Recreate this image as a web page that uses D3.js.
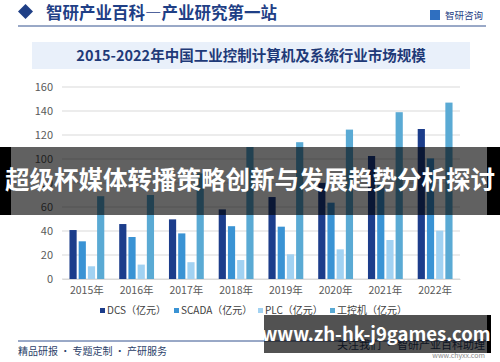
<!DOCTYPE html>
<html lang="zh">
<head>
  <meta charset="UTF-8">
  <title>工业控制计算机市场规模</title>
  <script src="https://cdn.jsdelivr.net/npm/d3@7/dist/d3.min.js"></script>
  <style>
    body { margin: 0; background: #fff; }
    svg { display: block; }
    text { font-family: "Noto Sans CJK SC", "Liberation Sans", sans-serif; }
  </style>
</head>
<body>
<div id="chart"></div>
<script>
  // 数据
  var years = ['2015年', '2016年', '2017年', '2018年', '2019年', '2020年', '2021年', '2022年']
  var seriesNames = ['DCS（亿元）', 'SCADA（亿元）', 'PLC（亿元）', '工控机（亿元）']
  var dcs = [40.8, 45.8, 49.7, 58.0, 68.3, 80.0, 102.5, 125.0]
  var scada = [31.4, 35.0, 38.0, 44.0, 43.6, 63.6, 80.0, 100.5]
  var plc = [10.6, 12.0, 14.0, 15.8, 20.6, 24.7, 32.5, 40.3]
  var ipc = [69.0, 70.0, 88.0, 110.0, 114.0, 124.5, 139.0, 147.0]
  var yTicks = [0, 20, 40, 60, 80, 100, 120, 140, 160]
  var colors = ['#1c3d8b', '#3a93d4', '#a2d2f2', '#5aaad4']

  var allSeries = [dcs, scada, plc, ipc]
  var width = 500
  var height = 362
  var navy = '#1f3f86'

  var svg = d3.select('#chart').append('svg')
    .attr('width', width)
    .attr('height', height)

  // 页眉
  svg.append('path')
    .attr('d', 'M18,11.5 L25.5,4 L33,11.5 L25.5,19 Z')
    .attr('fill', navy)
  svg.append('text')
    .attr('x', 46).attr('y', 19)
    .attr('font-size', 16.5).attr('font-weight', 'bold')
    .attr('fill', navy)
    .text('智研产业百科—产业研究第一站')
  svg.append('rect')
    .attr('x', 430).attr('y', 10).attr('width', 10).attr('height', 10)
    .attr('fill', '#2f6fc0')
  svg.append('text')
    .attr('x', 445).attr('y', 19)
    .attr('font-size', 9.5)
    .attr('fill', navy)
    .text('智研咨询')
  svg.append('line')
    .attr('x1', 18).attr('x2', 486).attr('y1', 26).attr('y2', 26)
    .attr('stroke', '#34538f').attr('stroke-width', 1)

  // 标题框
  svg.append('rect')
    .attr('x', 32).attr('y', 42).attr('width', 438).attr('height', 27)
    .attr('fill', '#e9f0fa')
  svg.append('text')
    .attr('x', 251).attr('y', 61)
    .attr('text-anchor', 'middle')
    .attr('font-size', 14.5).attr('font-weight', 'bold')
    .attr('fill', '#1f3a78')
    .text('2015-2022年中国工业控制计算机及系统行业市场规模')

  // 比例尺
  var x0 = d3.scaleBand()
    .domain(years)
    .range([62, 460])
    .paddingInner(0.3)
    .paddingOuter(0.15)

  var x1 = d3.scaleBand()
    .domain(d3.range(seriesNames.length))
    .range([0, x0.bandwidth()])
    .paddingInner(0.22)

  var y = d3.scaleLinear()
    .domain([0, 160])
    .range([279, 87])

  // 网格线
  svg.append('g')
    .selectAll('line')
    .data(yTicks)
    .enter()
    .append('line')
    .attr('x1', 62).attr('x2', 460)
    .attr('y1', d => y(d)).attr('y2', d => y(d))
    .attr('stroke', '#d9d9d9').attr('stroke-width', 1)

  // 纵轴
  var yAxis = d3.axisLeft(y).tickValues(yTicks).tickSize(0).tickPadding(0)
  var gy = svg.append('g')
    .attr('transform', 'translate(53,0)')
    .call(yAxis)
  gy.select('.domain').remove()
  gy.selectAll('text')
    .attr('font-size', 11)
    .attr('fill', '#595959')
    .attr('font-family', 'Liberation Sans, sans-serif')

  // 柱子
  var groups = svg.append('g')
    .selectAll('g')
    .data(years)
    .enter()
    .append('g')
    .attr('transform', d => 'translate(' + x0(d) + ',0)')

  groups.selectAll('rect')
    .data((d, i) => allSeries.map((s, j) => ({ k: j, v: s[i] })))
    .enter()
    .append('rect')
    .attr('x', d => x1(d.k))
    .attr('y', d => y(d.v))
    .attr('width', x1.bandwidth())
    .attr('height', d => y(0) - y(d.v))
    .attr('fill', d => colors[d.k])

  // 横轴
  var xAxis = d3.axisBottom(x0).tickSize(0).tickPadding(8)
  var gx = svg.append('g')
    .attr('transform', 'translate(0,279)')
    .call(xAxis)
  gx.select('.domain').attr('stroke', '#d9d9d9')
  gx.selectAll('text')
    .attr('font-size', 10.5)
    .attr('fill', '#595959')

  // 图例
  var legendX = [100, 174, 258, 330]
  var legend = svg.append('g')
    .selectAll('g')
    .data(seriesNames)
    .enter()
    .append('g')
    .attr('transform', (d, i) => 'translate(' + legendX[i] + ',308)')
  legend.append('rect')
    .attr('width', 5).attr('height', 5)
    .attr('fill', (d, i) => colors[i])
  legend.append('text')
    .attr('x', 7).attr('y', 6)
    .attr('font-size', 10)
    .attr('fill', '#404040')
    .text(d => d)

  // 页脚
  svg.append('line')
    .attr('x1', 18).attr('x2', 486).attr('y1', 341).attr('y2', 341)
    .attr('stroke', '#34538f').attr('stroke-width', 1)
  svg.append('text')
    .attr('x', 18).attr('y', 355)
    .attr('font-size', 10)
    .attr('fill', '#2c3f6a')
    .text('精品研报 · 专题定制 · 产研服务')
  svg.append('text')
    .attr('x', 485).attr('y', 349)
    .attr('text-anchor', 'end')
    .attr('font-size', 11)
    .attr('fill', '#2c3f6a')
    .text('关注我们 · 智研产业百科助理')
  svg.append('text')
    .attr('x', 485).attr('y', 358)
    .attr('text-anchor', 'end')
    .attr('font-size', 7)
    .attr('fill', '#8a8a8a')
    .attr('font-family', 'Liberation Serif, serif')
    .text('www.chyxx.com')

  // 中间横幅
  svg.append('rect')
    .attr('x', 0).attr('y', 147).attr('width', 500).attr('height', 68)
    .attr('fill', '#000').attr('opacity', 0.62)
  svg.append('rect')
    .attr('x', 0).attr('y', 147).attr('width', 11).attr('height', 68)
    .attr('fill', '#000')
  svg.append('rect')
    .attr('x', 487).attr('y', 147).attr('width', 13).attr('height', 68)
    .attr('fill', '#000')
  svg.append('text')
    .attr('x', 250).attr('y', 189)
    .attr('text-anchor', 'middle')
    .attr('font-size', 24.5).attr('font-weight', 'bold')
    .attr('fill', '#fff')
    .text('超级杯媒体转播策略创新与发展趋势分析探讨')

  // 底部网址
  svg.append('rect')
    .attr('x', 264).attr('y', 315).attr('width', 223).attr('height', 38)
    .attr('fill', '#000').attr('opacity', 0.68)
  svg.append('rect')
    .attr('x', 487).attr('y', 315).attr('width', 4).attr('height', 38)
    .attr('fill', '#000')
  svg.append('text')
    .attr('x', 376).attr('y', 341)
    .attr('text-anchor', 'middle')
    .attr('font-size', 18.5).attr('font-weight', 'bold')
    .attr('fill', '#fff')
    .attr('font-family', 'Open Sans, sans-serif')
    .text('www.zh-hk-j9games.com')
</script>
</body>
</html>
